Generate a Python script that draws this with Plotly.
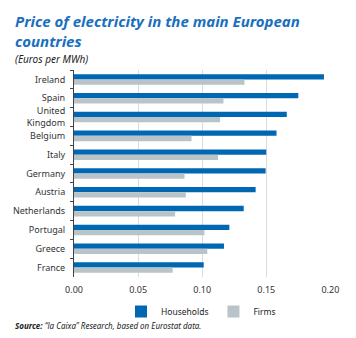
import plotly.graph_objects as go

countries = ["Ireland", "Spain", "United<br>Kingdom", "Belgium", "Italy", "Germany",
             "Austria", "Netherlands", "Portugal", "Greece", "France"]
households = [0.195, 0.175, 0.166, 0.158, 0.150, 0.1495, 0.1417, 0.1324, 0.1212, 0.117, 0.1012]
firms = [0.133, 0.1166, 0.114, 0.0917, 0.1124, 0.0862, 0.0872, 0.0789, 0.1018, 0.104, 0.077]
x_ticks = [0.0, 0.05, 0.10, 0.15, 0.20]
x_labels = ["0.00", "0.05", "0.10", "0.15", "0.20"]

BLUE = "#0068b3"
GREY = "#b9c4c8"

L, R, T, B = 74, 25, 70, 61
W, H = 356, 338
PH = H - T - B
PW = W - L - R

def px(x):
    return (x - L) / PW

def py(y):
    return (H - B - y) / PH

fig = go.Figure()
fig.add_trace(go.Bar(y=countries, x=households, name="Households", orientation="h",
                     marker=dict(color=BLUE, line=dict(width=0))))
fig.add_trace(go.Bar(y=countries, x=firms, name="Firms", orientation="h",
                     marker=dict(color=GREY, line=dict(width=0))))

fig.update_layout(
    width=W, height=H,
    margin=dict(l=L, r=R, t=T, b=B, pad=0),
    paper_bgcolor="white", plot_bgcolor="white",
    barmode="group", bargap=0.44, bargroupgap=0,
    font=dict(family="Noto Sans", size=9, color="#333333"),
    showlegend=True,
    legend=dict(orientation="h", x=px(121), y=py(297), xanchor="left", yanchor="top",
                font=dict(size=8.5, color="#222222"), itemwidth=30, traceorder="normal",
                bgcolor="rgba(0,0,0,0)"),
    xaxis=dict(range=[0, 0.2005], tickvals=x_ticks, ticktext=x_labels,
               showgrid=True, gridcolor="#dcdcdc", gridwidth=1, zeroline=False,
               showline=False, ticks="", tickfont=dict(size=9, color="#333333"),
               ticklabelstandoff=6),
    yaxis=dict(autorange="reversed", showline=True, linecolor="#444444", linewidth=1,
               ticks="outside", ticklen=3, tickcolor="#444444", tickson="boundaries",
               showgrid=False, tickfont=dict(size=9, color="#333333"), ticklabelstandoff=6),
)

fig.add_annotation(xref="paper", yref="paper", x=px(13), y=py(9), xanchor="left", yanchor="top",
                   align="left", showarrow=False,
                   text="<b><i>Price of electricity in the main European<br>countries</i></b>",
                   font=dict(family="Noto Sans", size=15, color="#1a6fbf"))
fig.add_annotation(xref="paper", yref="paper", x=px(13), y=py(50), xanchor="left", yanchor="top",
                   showarrow=False, text="<i>(Euros per MWh)</i>",
                   font=dict(family="Noto Sans", size=10, color="#222222"))
fig.add_annotation(xref="paper", yref="paper", x=px(13), y=py(318), xanchor="left", yanchor="top",
                   showarrow=False,
                   text="<b><i>Source:</i></b><i> “la Caixa” Research, based on Eurostat data.</i>",
                   font=dict(family="Noto Sans", size=8, color="#222222"))

fig.write_html("out.html")
